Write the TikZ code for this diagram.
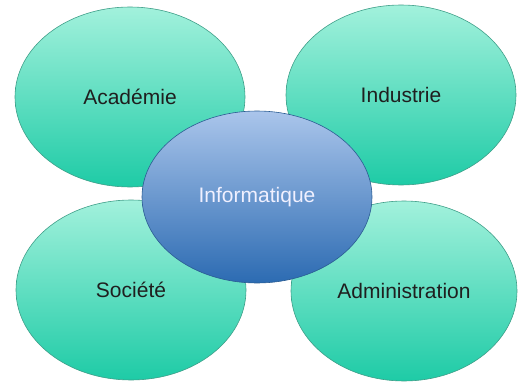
\documentclass[tikz,border=0pt]{standalone}
\usepackage{fontspec}
\setmainfont{Liberation Sans}
\usetikzlibrary{shapes.geometric}

\definecolor{vertclair}{HTML}{A2F1DC}
\definecolor{vertfonce}{HTML}{1ECBA6}
\definecolor{vertbord}{HTML}{3E9E88}
\definecolor{bleuclair}{HTML}{AAC5EB}
\definecolor{bleufonce}{HTML}{2C6BB2}
\definecolor{bleubord}{HTML}{2A5C92}

\tikzset{
	bulle/.style={ellipse, draw=vertbord, line width=0.6pt, top color=vertclair, bottom color=vertfonce,
		minimum width=230pt, minimum height=180pt, inner sep=0pt, text=black!88,
		font=\fontsize{21}{25}\selectfont},
	coeur/.style={bulle, draw=bleubord, top color=bleuclair, bottom color=bleufonce,
		minimum height=172pt, text=white!94!blue}
}

\begin{document}
\begin{tikzpicture}[x=1pt, y=1pt]
	\useasboundingbox (0,0) rectangle (518,383);
	
	\coordinate (centre) at (257,186);
	
	\node[bulle] (academie) at ([shift={(-127,100)}]centre) {Académie};
	\node[bulle] (industrie) at ([shift={(144,102)}]centre) {Industrie};
	\node[bulle] (societe) at ([shift={(-126,-93)}]centre) {Société};
	\node[bulle, minimum width=226pt] (admin) at ([shift={(147,-94)}]centre) {Administration};
	
	\node[coeur] (info) at (centre) {Informatique};
\end{tikzpicture}
\end{document}
